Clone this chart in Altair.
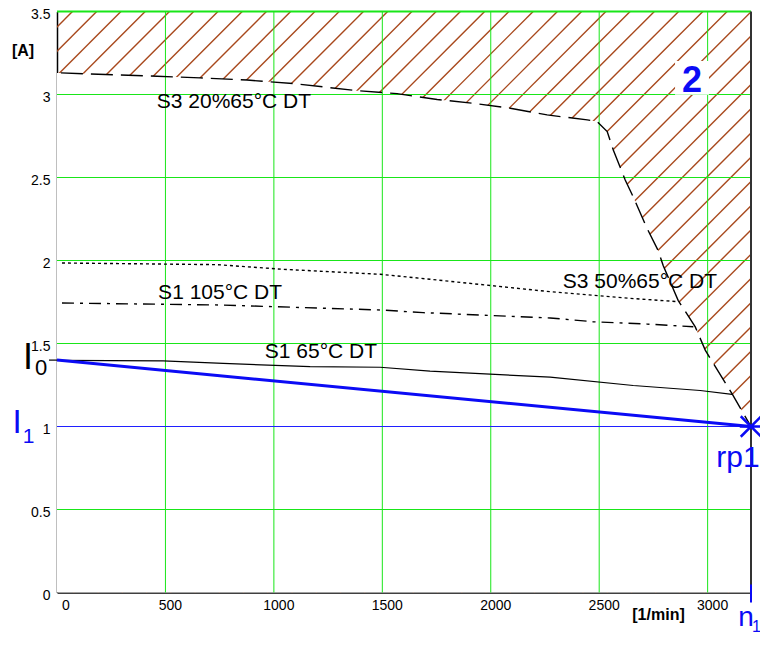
import altair as alt
import pandas as pd

# ---- data ----
XMAX = 3200
YMAX = 3.5
I0 = 1.4
I1 = 1.0
N1 = 3200

x_ticks = [0, 500, 1000, 1500, 2000, 2500, 3000]
y_ticks = [0, 0.5, 1, 1.5, 2, 2.5, 3, 3.5]
x_grid = [500, 1000, 1500, 2000, 2500, 3000]
y_grid = [0.5, 1, 1.5, 2, 2.5, 3]

s3_20_x = [18, 461, 660, 876, 1089, 1384, 1568, 1753, 1919, 2090, 2260, 2445, 2490,
           2537, 2565, 2620, 2657, 2721, 2772, 2795, 2864, 2943, 2989, 3113, 3200]
s3_20_y = [3.13, 3.11, 3.10, 3.087, 3.066, 3.023, 3.005, 2.97, 2.947, 2.917, 2.877, 2.847, 2.837,
           2.777, 2.666, 2.485, 2.383, 2.193, 2.06, 1.97, 1.76, 1.60, 1.46, 1.196, 1.0]

s3_50_x = [23, 738, 1042, 1490, 1720, 2274, 2643, 2864]
s3_50_y = [1.985, 1.975, 1.947, 1.917, 1.887, 1.812, 1.772, 1.752]

s1_105_x = [23, 752, 996, 1490, 1688, 2274, 2472, 2721, 2934]
s1_105_y = [1.744, 1.732, 1.722, 1.702, 1.686, 1.654, 1.631, 1.617, 1.601]

s1_65_x = [0, 489, 766, 1167, 1490, 1720, 2274, 2657, 2966, 3113]
s1_65_y = [1.398, 1.395, 1.38, 1.361, 1.357, 1.333, 1.297, 1.247, 1.217, 1.193]

curve_labels = ["S3 20%65°C DT", "S3 50%65°C DT", "S1 105°C DT", "S1 65°C DT"]
label_x = [816, 2688, 752, 1217]
label_y = [2.955, 1.870, 1.804, 1.449]

mark_2_x = 2928
mark_2_y = 3.015
mark_2_box_y = 3.10

# ---- layout / style ----
W, H = 694, 581
FONT = "Liberation Sans"
GREEN = "#19e619"
BLUE = "#0b0bf5"
HATCH = "#a8481c"

# hatch pattern (decoration): 45 deg lines, spacing along top edge
HATCH_STEP = 111.8
HATCH_X0 = 183
run = XMAX * H / W  # x-extent of a 45deg line over full height
ks = range(-3, 56)
hatch = pd.DataFrame({
    "x": [HATCH_X0 + k * HATCH_STEP - run for k in ks],
    "x2": [HATCH_X0 + k * HATCH_STEP for k in ks],
})
hatch["y"] = 0.0
hatch["y2"] = YMAX

xs = alt.Scale(domain=[0, XMAX], nice=False, zero=False)
ys = alt.Scale(domain=[0, YMAX], nice=False, zero=False)
xaxis = alt.Axis(values=x_ticks, format="d", grid=False, ticks=False, domainColor="black",
                 domainWidth=1.5, labelFontSize=14, labelPadding=6, labelOffset=4.5, labelColor="black",
                 title="[1/min]", titleX=601, titleY=22, titleAlign="center", titleBaseline="middle",
                 titleFontSize=16, titleFontWeight="bold", titleColor="black")
yaxis = alt.Axis(values=y_ticks, format="~g", grid=False, ticks=False, domainColor="black",
                 domainWidth=1.5, labelFontSize=14, labelPadding=7, labelOffset=2.5, labelColor="black",
                 title="[A]", titleAngle=0, titleX=-34.5, titleY=38.5, titleAlign="center",
                 titleBaseline="middle", titleFontSize=16, titleFontWeight="bold", titleColor="black")


def X(f="x"):
    return alt.X(f"{f}:Q", scale=xs, axis=xaxis)


def Y(f="y"):
    return alt.Y(f"{f}:Q", scale=ys, axis=yaxis)


hatch_layer = alt.Chart(hatch).mark_rule(color=HATCH, strokeWidth=1.4, clip=True).encode(
    x=X(), y=Y(), x2="x2:Q", y2="y2:Q")

mask = pd.DataFrame({"x": [0] + s3_20_x, "y": [s3_20_y[0]] + s3_20_y})
mask["b"] = 0.0
mask_layer = alt.Chart(mask).mark_area(color="white", opacity=1).encode(x=X(), y=Y(), y2="b:Q")

gx = alt.Chart(pd.DataFrame({"x": x_grid})).mark_rule(color=GREEN, strokeWidth=1).encode(x=X())
gy = alt.Chart(pd.DataFrame({"y": y_grid})).mark_rule(color=GREEN, strokeWidth=1).encode(y=Y())
gtop = alt.Chart(pd.DataFrame({"y": [YMAX]})).mark_rule(color=GREEN, strokeWidth=2).encode(y=Y())
right_border = alt.Chart(pd.DataFrame({"x": [XMAX]})).mark_rule(color="#333333", strokeWidth=2).encode(x=X())


def curve(xv, yv, dash, width=1.4):
    df = pd.DataFrame({"x": xv, "y": yv})
    kw = dict(color="black", strokeWidth=width)
    if dash:
        kw["strokeDash"] = dash
    return alt.Chart(df).mark_line(**kw).encode(x=X(), y=Y())


c_s3_20 = curve(s3_20_x, s3_20_y, [22, 8])
c_s3_50 = curve(s3_50_x, s3_50_y, [3, 3])
c_s1_105 = curve(s1_105_x, s1_105_y, [12, 6, 3, 6])
c_s1_65 = curve(s1_65_x, s1_65_y, None, 1.2)

blue_h = alt.Chart(pd.DataFrame({"x": [0, N1], "y": [I1, I1]})).mark_line(
    color="#2020ff", strokeWidth=1.2).encode(x=X(), y=Y())
blue_main = alt.Chart(pd.DataFrame({"x": [0, N1], "y": [I0, I1]})).mark_line(
    color=BLUE, strokeWidth=3).encode(x=X(), y=Y())

pt = pd.DataFrame({"x": [N1], "y": [I1]})
star = alt.Chart(pt).mark_point(shape="M-1,-1L1,1M1,-1L-1,1M-1.1,0L1.1,0", size=420, filled=False,
                                color=BLUE, strokeWidth=2.5, opacity=1).encode(x=X(), y=Y())

box = alt.Chart(pd.DataFrame({"x": [mark_2_x], "y": [mark_2_box_y]})).mark_square(
    color="white", size=1150, opacity=1, strokeWidth=0).encode(x=X(), y=Y())
two = alt.Chart(pd.DataFrame({"x": [mark_2_x], "y": [mark_2_y]})).mark_text(
    text="2", fontSize=36, fontWeight="bold", color=BLUE, align="center", baseline="alphabetic",
    font=FONT).encode(x=X(), y=Y())

labels = alt.Chart(pd.DataFrame({"x": label_x, "y": label_y, "t": curve_labels})).mark_text(
    fontSize=21, color="black", align="center", baseline="middle", font=FONT).encode(
    x=X(), y=Y(), text="t:N")

i0 = pd.DataFrame({"x": [0], "y": [I0]})
i1 = pd.DataFrame({"x": [0], "y": [I1]})
n1 = pd.DataFrame({"x": [N1], "y": [0]})


def txt(df, s, size, color, dx, dy, weight="normal"):
    return alt.Chart(df).mark_text(text=s, fontSize=size, color=color, dx=dx, dy=dy, align="center",
                                   baseline="alphabetic", font=FONT, fontWeight=weight).encode(x=X(), y=Y())


t_I0 = txt(i0, "I", 36, "black", -29, 9)
t_I0s = txt(i0, "0", 22, "black", -16, 15)
t_I1 = txt(i1, "I", 33, BLUE, -40, 6)
t_I1s = txt(i1, "1", 21, BLUE, -28.5, 16)
t_n = txt(n1, "n", 28, BLUE, -5, 33)
t_ns = txt(n1, "1", 16, BLUE, 5.5, 39)
t_rp = txt(pt, "rp1", 30, BLUE, -13, 40)

i0_tick = alt.Chart(i0).mark_rule(color="black", strokeWidth=1.2).encode(
    y=Y(), x=alt.value(-8), x2=alt.value(0))
n1_tick = alt.Chart(n1).mark_rule(color=BLUE, strokeWidth=2).encode(
    x=X(), y=alt.value(H - 8), y2=alt.value(H + 10))

chart = alt.layer(
    hatch_layer, mask_layer, gx, gy, gtop, right_border,
    c_s3_20, c_s3_50, c_s1_105, c_s1_65,
    blue_h, blue_main, star, box, two, labels,
    t_I0, t_I0s, t_I1, t_I1s, t_n, t_ns, t_rp, i0_tick, n1_tick,
).properties(
    width=W, height=H,
    padding={"left": 49, "top": 3.5, "right": 9, "bottom": 39.5},
    autosize=alt.AutoSizeParams(type="none"),
    background="white",
).configure_view(strokeWidth=0).configure_axis(labelFont=FONT, titleFont=FONT).configure_text(font=FONT)

chart.save("out.html", embed_options={"renderer": "svg", "actions": False})
